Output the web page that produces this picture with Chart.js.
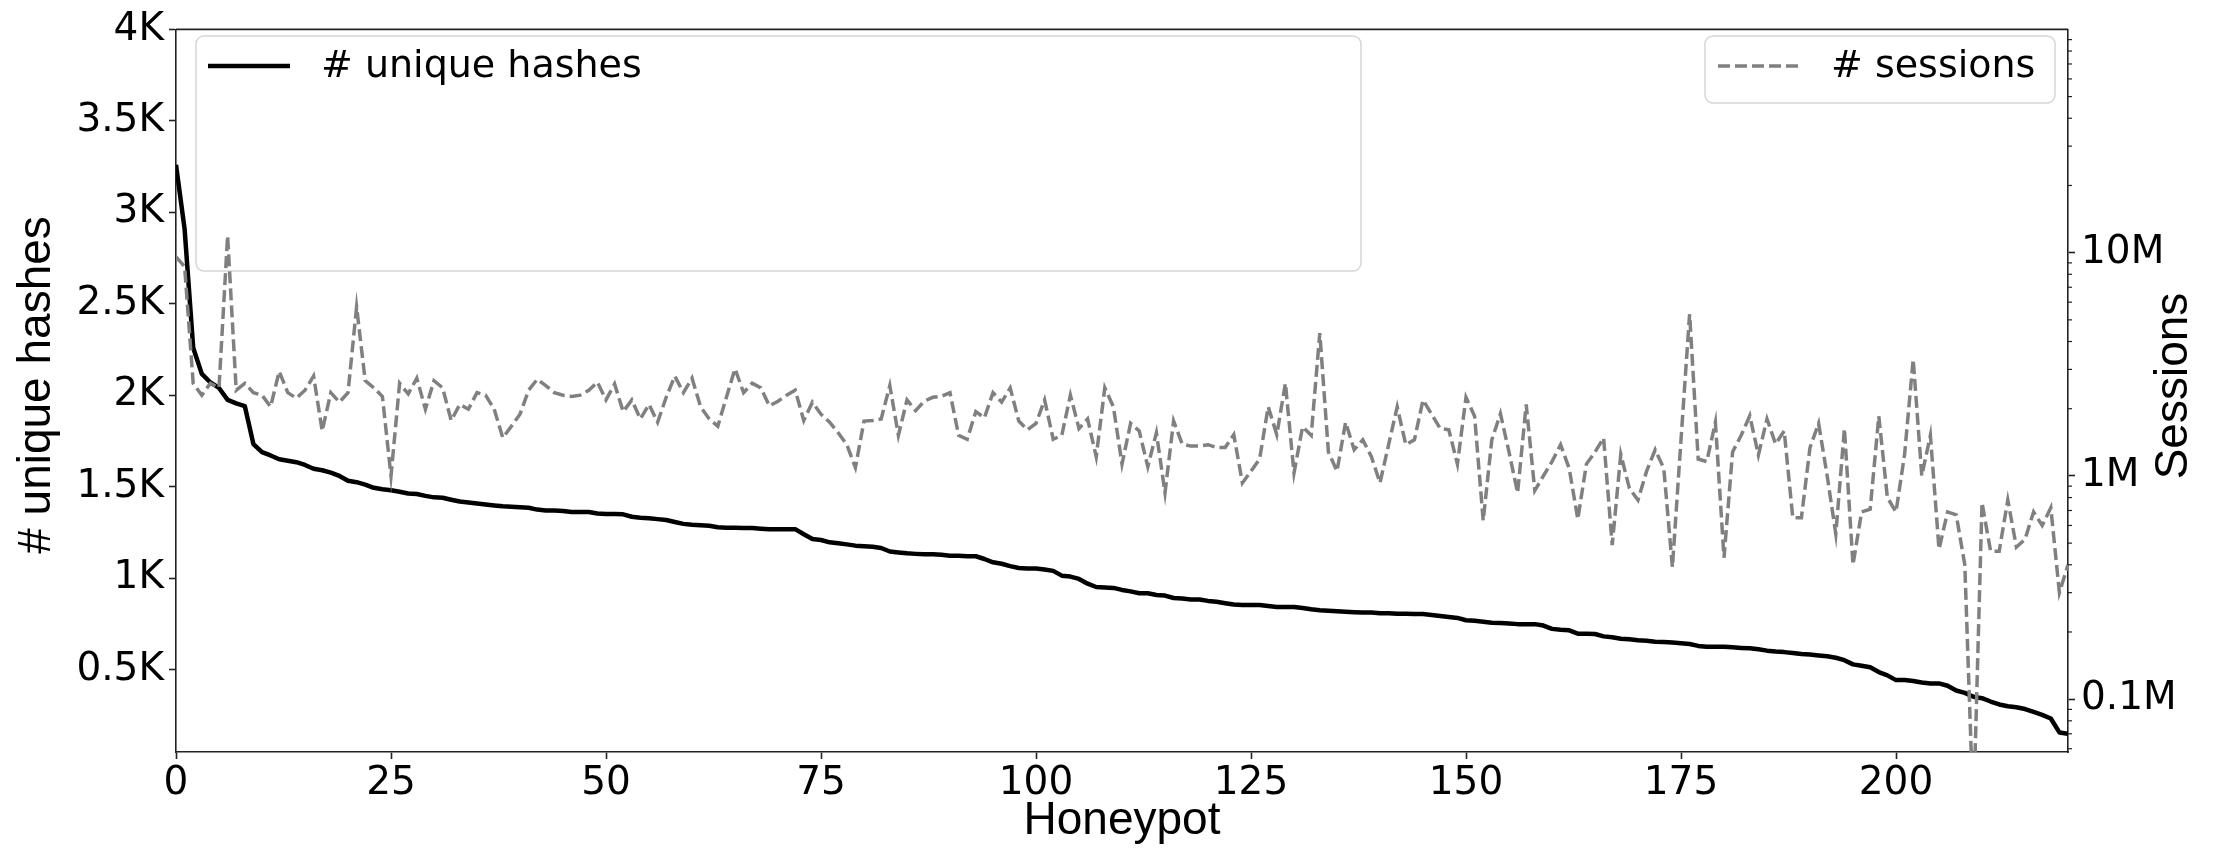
<!DOCTYPE html>
<html>
<head>
<meta charset="utf-8">
<title>Unique hashes and sessions per honeypot</title>
<script src="https://cdn.jsdelivr.net/npm/chart.js@4.4.1/dist/chart.umd.min.js"></script>
<style>
  html, body { margin: 0; padding: 0; background: #fff; }
  #chart { display: block; }
</style>
</head>
<body>
<canvas id="chart" width="2213" height="853"></canvas>
<script>
// ── Data ──────────────────────────────────────────────────────────

// # unique hashes per honeypot, honeypots sorted by this value (0..220)
const uniqueHashes = [
  3260, 2909, 2260, 2117, 2070, 2040, 1975, 1956, 1941, 1733,
  1689, 1671, 1650, 1642, 1634, 1619, 1598, 1590, 1577, 1559,
  1533, 1525, 1512, 1494, 1486, 1481, 1473, 1463, 1460, 1450,
  1442, 1440, 1429, 1419, 1414, 1409, 1403, 1398, 1393, 1390,
  1388, 1385, 1375, 1370, 1370, 1367, 1362, 1362, 1362, 1354,
  1351, 1351, 1349, 1336, 1331, 1328, 1323, 1318, 1307, 1297,
  1292, 1289, 1287, 1279, 1276, 1276, 1274, 1274, 1271, 1268,
  1268, 1268, 1268, 1240, 1214, 1209, 1196, 1191, 1185, 1178,
  1175, 1172, 1165, 1146, 1141, 1136, 1133, 1131, 1131, 1128,
  1123, 1123, 1120, 1120, 1105, 1087, 1079, 1066, 1056, 1053,
  1053, 1048, 1040, 1014, 1009, 996, 970, 952, 949, 947,
  936, 928, 918, 918, 908, 905, 892, 889, 884, 884,
  876, 871, 863, 856, 853, 853, 853, 848, 843, 843,
  843, 837, 830, 825, 822, 819, 817, 814, 812, 812,
  809, 809, 806, 806, 804, 804, 799, 793, 788, 783,
  770, 767, 762, 757, 755, 752, 749, 749, 749, 741,
  723, 718, 715, 697, 697, 695, 682, 677, 669, 666,
  661, 658, 653, 651, 648, 645, 640, 630, 625, 625,
  625, 622, 619, 617, 612, 604, 599, 596, 591, 586,
  583, 578, 573, 565, 552, 529, 521, 513, 487, 469,
  443, 443, 438, 430, 425, 425, 412, 386, 373, 352,
  344, 326, 310, 300, 295, 285, 269, 253, 233, 157,
  150,
];

// # sessions per honeypot, in millions (log axis)
const sessionsM = [
  9.57, 8.67, 2.6, 2.3, 2.6, 2.48, 11.9, 2.42, 2.6, 2.36,
  2.3, 2.04, 2.94, 2.36, 2.23, 2.42, 2.8, 1.59, 2.36, 2.14,
  2.36, 5.71, 2.67, 2.48, 2.27, 1.0, 2.6, 2.33, 2.74, 1.99,
  2.67, 2.48, 1.77, 2.09, 1.99, 2.36, 2.3, 1.99, 1.48, 1.67,
  1.89, 2.42, 2.71, 2.54, 2.36, 2.3, 2.27, 2.3, 2.42, 2.63,
  2.19, 2.58, 1.94, 2.19, 1.8, 2.09, 1.74, 2.25, 2.8, 2.36,
  2.74, 2.04, 1.8, 1.67, 2.25, 3.02, 2.36, 2.6, 2.48, 2.06,
  2.16, 2.3, 2.42, 1.77, 2.14, 1.89, 1.74, 1.56, 1.38, 1.09,
  1.76, 1.77, 1.8, 2.54, 1.52, 2.19, 1.96, 2.16, 2.25, 2.27,
  2.36, 1.52, 1.46, 1.94, 1.82, 2.36, 2.14, 2.48, 1.76, 1.61,
  1.72, 2.19, 1.46, 1.52, 2.3, 1.63, 1.8, 1.22, 2.48, 2.04,
  1.13, 1.72, 1.59, 1.10, 1.56, 0.84, 1.76, 1.39, 1.36, 1.36,
  1.38, 1.34, 1.34, 1.53, 0.93, 1.05, 1.19, 2.04, 1.53, 2.6,
  1.03, 1.66, 1.52, 4.36, 1.28, 1.05, 1.74, 1.31, 1.45, 1.22,
  0.93, 1.38, 2.04, 1.38, 1.45, 2.19, 1.89, 1.63, 1.61, 1.13,
  2.25, 1.85, 0.63, 1.45, 1.9, 1.28, 0.84, 2.09, 0.86, 1.0,
  1.16, 1.38, 1.08, 0.64, 1.13, 1.28, 1.48, 0.49, 1.25, 0.88,
  0.78, 1.05, 1.31, 1.08, 0.39, 1.45, 5.31, 1.19, 1.16, 1.74,
  0.43, 1.28, 1.52, 1.86, 1.24, 1.8, 1.39, 1.59, 0.65, 0.65,
  1.34, 1.72, 1.0, 0.55, 1.63, 0.40, 0.69, 0.71, 1.85, 0.80,
  0.69, 1.25, 3.33, 1.0, 1.52, 0.47, 0.69, 0.67, 0.40, 0.03,
  0.76, 0.46, 0.46, 0.78, 0.48, 0.52, 0.69, 0.60, 0.72, 0.30,
  0.40,
];

const honeypotTicks = [0, 25, 50, 75, 100, 125, 150, 175, 200];
const hashTicks = [500, 1000, 1500, 2000, 2500, 3000, 3500, 4000];
const sessionTicks = [0.1, 1, 10];
const sessionMinorTicks = [
  0.06, 0.07, 0.08, 0.09,
  0.2, 0.3, 0.4, 0.5, 0.6, 0.7, 0.8, 0.9,
  2, 3, 4, 5, 6, 7, 8, 9,
  20, 30, 40, 50, 60, 70, 80, 90,
];

// ── Style ─────────────────────────────────────────────────────────

const TICK_FONT = { family: 'DejaVu Sans', size: 39 };
const TITLE_FONT = '46px "Liberation Sans", Arial, sans-serif';
const LEGEND_FONT = '38px "DejaVu Sans", sans-serif';
const AXIS_COLOR = '#222';
const SESSION_GREY = '#808080';
const SESSION_DASH = [12, 5];

// ── Helpers ───────────────────────────────────────────────────────

function drawLegendBox(ctx, box, dataset) {
  ctx.save();
  ctx.beginPath();
  ctx.roundRect(box.x, box.y, box.w, box.h, 8);
  ctx.fillStyle = 'rgba(255, 255, 255, 0.8)';
  ctx.fill();
  ctx.lineWidth = 1.5;
  ctx.strokeStyle = '#d6d6d6';
  ctx.stroke();

  // line sample
  ctx.beginPath();
  ctx.moveTo(box.sampleX, box.rowY);
  ctx.lineTo(box.sampleX + box.sampleW, box.rowY);
  ctx.lineWidth = dataset.borderWidth;
  ctx.strokeStyle = dataset.borderColor;
  ctx.setLineDash(dataset.borderDash || []);
  ctx.stroke();
  ctx.setLineDash([]);

  ctx.font = LEGEND_FONT;
  ctx.fillStyle = '#000';
  ctx.textAlign = 'left';
  ctx.textBaseline = 'middle';
  ctx.fillText(dataset.label, box.textX, box.rowY + 1);
  ctx.restore();
}

function rotatedText(ctx, text, x, y) {
  ctx.save();
  ctx.translate(x, y);
  ctx.rotate(-Math.PI / 2);
  ctx.fillText(text, 0, 0);
  ctx.restore();
}

// ── Plugin: legends, frame, minor ticks, axis titles ──────────────

const decorations = {
  id: 'decorations',
  beforeDatasetDraw(chart, args) {
    // left legend sits between the hashes line and the sessions line
    if (args.index === 1) {
      drawLegendBox(chart.ctx, {
        x: 196, y: 36, w: 1165, h: 235,
        sampleX: 208, sampleW: 82, rowY: 66, textX: 321,
      }, chart.data.datasets[0]);
    }
  },
  afterDatasetsDraw(chart) {
    drawLegendBox(chart.ctx, {
      x: 1705, y: 36, w: 350, h: 67,
      sampleX: 1718, sampleW: 82, rowY: 66, textX: 1831,
    }, chart.data.datasets[1]);
  },
  afterDraw(chart) {
    const { ctx, chartArea } = chart;
    const y1 = chart.scales.y1;
    ctx.save();

    // top spine
    ctx.strokeStyle = AXIS_COLOR;
    ctx.lineWidth = 1.6;
    ctx.beginPath();
    ctx.moveTo(chartArea.left, chartArea.top);
    ctx.lineTo(chartArea.right, chartArea.top);
    ctx.stroke();

    // minor ticks of the log axis
    ctx.lineWidth = 1.2;
    sessionMinorTicks.forEach(v => {
      const py = y1.getPixelForValue(v);
      if (py < chartArea.top - 0.5 || py > chartArea.bottom + 0.5) return;
      ctx.beginPath();
      ctx.moveTo(chartArea.right, py);
      ctx.lineTo(chartArea.right + 4, py);
      ctx.stroke();
    });

    // axis titles
    ctx.fillStyle = '#000';
    ctx.font = TITLE_FONT;
    ctx.textAlign = 'center';
    ctx.textBaseline = 'alphabetic';
    rotatedText(ctx, '# unique hashes', 50, 385);
    rotatedText(ctx, 'Sessions', 2187, 386);
    ctx.fillText('Honeypot', (chartArea.left + chartArea.right) / 2, 834);
    ctx.restore();
  },
};

// ── Chart ─────────────────────────────────────────────────────────

const tickMarks = {
  display: true,
  drawOnChartArea: false,
  drawTicks: true,
  tickLength: 7,
  tickWidth: 1.6,
  tickColor: AXIS_COLOR,
};
const spine = { display: true, color: AXIS_COLOR, width: 1.6 };

new Chart(document.getElementById('chart'), {
  type: 'line',
  data: {
    datasets: [
      {
        label: '# unique hashes',
        data: uniqueHashes.map((v, i) => ({ x: i, y: v })),
        yAxisID: 'y',
        borderColor: '#000',
        borderWidth: 4.5,
        pointRadius: 0,
        tension: 0,
        borderJoinStyle: 'round',
        order: 1,
      },
      {
        label: '# sessions',
        data: sessionsM.map((v, i) => ({ x: i, y: v })),
        yAxisID: 'y1',
        borderColor: SESSION_GREY,
        borderWidth: 3.5,
        borderDash: SESSION_DASH,
        pointRadius: 0,
        tension: 0,
        order: 0,
      },
    ],
  },
  options: {
    responsive: false,
    devicePixelRatio: 1,
    animation: false,
    layout: { padding: { top: 18, left: 0, right: 0, bottom: 0 } },
    plugins: {
      legend: { display: false },
      tooltip: { enabled: false },
    },
    scales: {
      x: {
        type: 'linear',
        min: 0,
        max: 220,
        grid: tickMarks,
        border: spine,
        afterBuildTicks: s => { s.ticks = honeypotTicks.map(v => ({ value: v })); },
        afterFit: s => { s.height = 101; },
        ticks: {
          autoSkip: false,
          maxRotation: 0,
          padding: 1,
          color: '#000',
          font: TICK_FONT,
        },
      },
      y: {
        type: 'linear',
        position: 'left',
        min: 50,
        max: 4000,
        grid: tickMarks,
        border: spine,
        afterBuildTicks: s => { s.ticks = hashTicks.map(v => ({ value: v })); },
        afterFit: s => { s.width = 176; },
        ticks: {
          padding: 5,
          color: '#000',
          font: TICK_FONT,
          callback: v => (v / 1000) + 'K',
        },
      },
      y1: {
        type: 'logarithmic',
        position: 'right',
        min: 0.058,
        max: 100,
        grid: tickMarks,
        border: spine,
        afterBuildTicks: s => { s.ticks = sessionTicks.map(v => ({ value: v })); },
        afterFit: s => { s.width = 145; },
        ticks: {
          padding: 6,
          color: '#000',
          font: TICK_FONT,
          callback: v => v + 'M',
        },
      },
    },
  },
  plugins: [decorations],
});
</script>
</body>
</html>
